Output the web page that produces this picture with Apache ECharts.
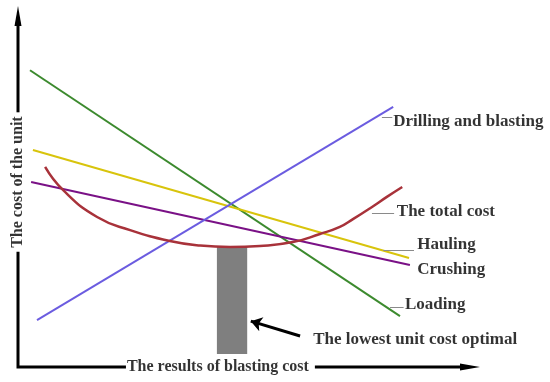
<!DOCTYPE html>
<html>
<head>
<meta charset="utf-8">
<script src="https://cdn.jsdelivr.net/npm/echarts@6/dist/echarts.min.js"></script>
<style>html,body{margin:0;padding:0;background:#fff;}#c{width:550px;height:382px;}</style>
</head>
<body>
<div id="c"></div>
<script>
// ---- data (arbitrary cost units) ----
const xTitle = 'The results of blasting cost';
const yTitle = 'The cost of the unit';
const seriesNames = ['Drilling and blasting', 'The total cost', 'Hauling', 'Crushing', 'Loading'];
const drillingBlasting = [[4.2, 13.3], [83.0, 73.7]];
const loading = [[2.65, 84.1], [84.5, 14.4]];
const hauling = [[3.3, 61.5], [86.5, 30.9]];
const crushing = [[2.9, 52.4], [86.7, 28.9]];
const totalCostX = [6.0, 10.0, 17.5, 24.8, 33.6, 40.3, 46.9, 53.5, 60.8, 66.8, 71.2, 74.1, 77.9, 81.6, 85.0];
const totalCostY = [56.7, 50.1, 42.5, 38.8, 35.7, 34.4, 34.0, 34.3, 35.4, 37.7, 39.7, 41.9, 45.0, 48.2, 51.0];
const optimalRange = {x0: 44.0, x1: 50.7, y0: 3.7, y1: 34.0};
const optimalText = 'The lowest unit cost optimal';
const X_MAX = 102.2, Y_MAX = 102.3;

const FONT = '"Liberation Serif", "Times New Roman", serif';
const TITLE_SIZE = 16;
const colors = {
  drilling: '#6b5ce0', total: '#a8323a', hauling: '#d8c40c', crushing: '#7a1186', loading: '#3c8a2e'
};

// label anchors (where each annotation text starts) and leader lines
const labelAnchors = [
  {name: seriesNames[0], value: [83.0, 69.6]},
  {name: seriesNames[1], value: [83.8, 43.9]},
  {name: seriesNames[2], value: [88.3, 34.8]},
  {name: seriesNames[3], value: [88.3, 27.5]},
  {name: seriesNames[4], value: [85.6, 17.8]},
  {name: optimalText, value: [65.3, 7.9]}
];
const leaders = [
  [[80.5, 70.8], [82.8, 70.8]],
  [[78.3, 43.6], [83.2, 43.6]],
  [[80.8, 33.1], [87.6, 33.1]],
  [[82.3, 17.0], [85.3, 17.0]]
];
const arrowLine = [[62.4, 8.8], [51.5, 13.0]];
const xTitleAt = [24.1, 0];   // left end of x-axis title
const yTitleAt = [0, 52.4];   // centre of y-axis title

// text widths, so the axis lines can leave a gap for the titles
const mctx = document.createElement('canvas').getContext('2d');
mctx.font = 'bold ' + TITLE_SIZE + 'px ' + FONT;
const xTitleW = mctx.measureText(xTitle).width;
const yTitleW = mctx.measureText(yTitle).width;

const chart = echarts.init(document.getElementById('c'), null, {renderer: 'canvas'});
const lineSeries = (name, data, color, w) => ({
  name, type: 'line', data, symbol: 'none', smooth: false,
  lineStyle: {color, width: w || 2}, z: 3, silent: true
});
const titleStyle = {fontFamily: FONT, fontWeight: 'bold', fontSize: TITLE_SIZE, color: '#000'};

const option = {
  animation: false,
  backgroundColor: '#fff',
  grid: {left: 18, right: 70, top: 6, bottom: 15},
  xAxis: {
    type: 'value', min: 0, max: X_MAX,
    axisLine: {show: false}, axisTick: {show: false}, axisLabel: {show: false}, splitLine: {show: false}
  },
  yAxis: {
    type: 'value', min: 0, max: Y_MAX,
    axisLine: {show: false}, axisTick: {show: false}, axisLabel: {show: false}, splitLine: {show: false}
  },
  series: [
    {
      // axis lines with arrow heads, broken where the titles sit
      type: 'custom', silent: true, z: 1, clip: false,
      renderItem: (params, api) => {
        const o = api.coord([0, 0]);
        const yt = api.coord([0, Y_MAX]);
        const xt = api.coord([X_MAX, 0]);
        const xa = api.coord(xTitleAt);
        const ya = api.coord(yTitleAt);
        const aL = 20, aW = 3.5, g = 4;
        const stroke = {stroke: '#000', lineWidth: 3, fill: null, lineJoin: 'miter'};
        return {type: 'group', children: [
          {type: 'polyline', shape: {points: [[yt[0], yt[1] + aL - 2], [yt[0], ya[1] - yTitleW / 2 - g]]}, style: stroke},
          {type: 'polyline', shape: {points: [[o[0], ya[1] + yTitleW / 2 + g], o, [xa[0] - 1, o[1]]]}, style: stroke},
          {type: 'polyline', shape: {points: [[xa[0] + xTitleW + g + 2, o[1]], [xt[0] - aL + 2, xt[1]]]}, style: stroke},
          {type: 'polygon', shape: {points: [yt, [yt[0] - aW, yt[1] + aL], [yt[0] + aW, yt[1] + aL]]},
            style: {fill: '#000'}},
          {type: 'polygon', shape: {points: [xt, [xt[0] - aL, xt[1] - aW], [xt[0] - aL, xt[1] + aW]]},
            style: {fill: '#000'}}
        ]};
      },
      data: [[0, 0]]
    },
    {
      type: 'custom', silent: true, z: 2,
      renderItem: (params, api) => {
        const p0 = api.coord([optimalRange.x0, optimalRange.y1]);
        const p1 = api.coord([optimalRange.x1, optimalRange.y0]);
        return {type: 'rect', shape: {x: p0[0], y: p0[1], width: p1[0] - p0[0], height: p1[1] - p0[1]},
          style: {fill: '#7f7f7f'}};
      },
      data: [[optimalRange.x0, optimalRange.y0]]
    },
    lineSeries(seriesNames[4], loading, colors.loading),
    lineSeries(seriesNames[2], hauling, colors.hauling),
    lineSeries(seriesNames[3], crushing, colors.crushing),
    lineSeries(seriesNames[0], drillingBlasting, colors.drilling),
    Object.assign(lineSeries(seriesNames[1], totalCostX.map((x, i) => [x, totalCostY[i]]), colors.total, 2.5),
      {smooth: 0.5}),
    {
      type: 'lines', coordinateSystem: 'cartesian2d', silent: true, z: 4,
      data: leaders.map(c => ({coords: c})),
      symbol: 'none',
      lineStyle: {color: '#8a8a8a', width: 1, opacity: 1, curveness: 0}
    },
    {
      type: 'lines', coordinateSystem: 'cartesian2d', silent: true, z: 4,
      data: [{coords: arrowLine}],
      symbol: ['none', 'arrow'], symbolSize: 11,
      lineStyle: {color: '#000', width: 3, opacity: 1, curveness: 0}
    },
    {
      type: 'scatter', symbolSize: 0, silent: true, z: 5,
      data: labelAnchors,
      label: {show: true, position: 'right', distance: 0, formatter: p => p.name,
        fontFamily: FONT, fontWeight: 'bold', fontSize: 17, color: '#000'}
    },
    {
      type: 'scatter', symbolSize: 0, silent: true, z: 6,
      data: [{name: xTitle, value: xTitleAt}],
      label: Object.assign({show: true, position: 'right', distance: 0, formatter: p => p.name}, titleStyle)
    },
    {
      type: 'scatter', symbolSize: 0, silent: true, z: 6,
      data: [{name: yTitle, value: yTitleAt}],
      label: Object.assign({show: true, position: 'inside', rotate: 90, formatter: p => p.name}, titleStyle)
    }
  ]
};
chart.setOption(option);
</script>
</body>
</html>
